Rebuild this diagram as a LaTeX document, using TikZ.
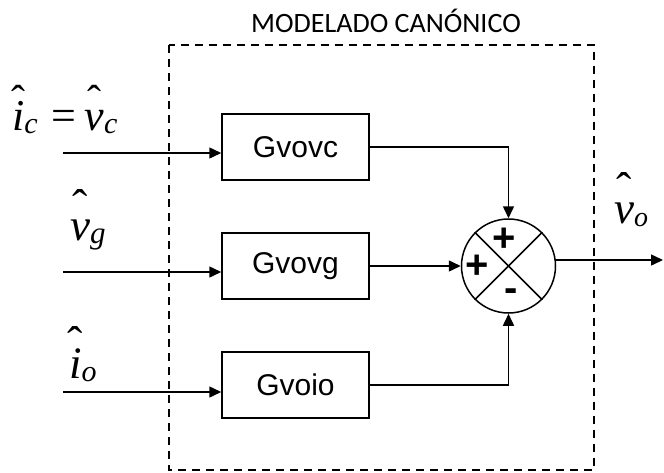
\documentclass[tikz,border=0pt]{standalone}
\usepackage{fontspec}
\usetikzlibrary{arrows.meta,calc}
\newfontfamily\serifL{Liberation Serif}
\newfontfamily\sansL{Liberation Sans}
\newfontfamily\titleF{Carlito}
\newcommand\hatover[3]{\leavevmode\setbox0=\hbox{#3}\rlap{\hbox to \wd0{\hss\raisebox{#1}{\fontsize{#2}{#2}\selectfont\upshape\char"02C6}\hss}}\box0}
\newcommand\subsc[2][30pt]{\raisebox{-3pt}{\fontsize{#1}{#1}\selectfont #2}}
\tikzset{
  blk/.style={draw, line width=1.5pt, minimum width=147pt, minimum height=66pt, inner sep=0pt,
    font=\sansL\fontsize{30pt}{30pt}\selectfont},
  conn/.style={line width=1.5pt},
  arr/.style={line width=1.5pt, -{Triangle[length=12pt,width=11pt]}},
  lbl/.style={inner sep=0pt, anchor=base west, font=\serifL\itshape\fontsize{45pt}{45pt}\selectfont},
  sign/.style={inner sep=0pt, font=\sansL\bfseries\fontsize{40pt}{40pt}\selectfont},
  frame/.style={line width=1.6pt, dash pattern=on 8pt off 6pt}
}
\begin{document}
\begin{tikzpicture}[x=1pt,y=-1pt]
\useasboundingbox (0,0) rectangle (664,472);
% frame
\draw[frame] (169,45) rectangle (594,470);
\node[font=\titleF\fontsize{28pt}{28pt}\selectfont, inner sep=0pt] (title) at (386,21) {MODELADO CANÓNICO};
% blocks
\node[blk] (b1) at (295.5,147) {Gvovc};
\node[blk] (b2) at (295.5,266) {Gvovg};
\node[blk] (b3) at (295.5,385) {Gvoio};
% summer
\node[draw, circle, line width=1.5pt, minimum size=94pt, inner sep=0pt] (s) at (508.5,266) {};
\draw[conn] (s.north east) -- (s.south west);
\draw[conn] (s.north west) -- (s.south east);
\node[sign] (p1) at ($(s.center)+(-4,-26)$) {+};
\node[sign] (p2) at ($(s.center)+(-31,1)$) {+};
\node[sign] (m1) at ($(s.center)+(3,29)$) {-};
% inputs
\coordinate (i1) at (63,153);
\coordinate (i2) at (63,272);
\coordinate (i3) at (63,392);
\draw[arr] (i1) -- (i1 -| b1.west);
\draw[arr] (i2) -- (i2 -| b2.west);
\draw[arr] (i3) -- (i3 -| b3.west);
% block outputs
\draw[arr] (b1.east) -| (s.north);
\draw[arr] (b2.east) -- (s.west);
\draw[arr] (b3.east) -| (s.south);
% output
\coordinate (oS) at ($(s.center)+(46.6,-6)$);
\coordinate (oE) at (663,260);
\draw[arr] (oS) -- (oE);
% labels
\node[lbl, font=\serifL\itshape\fontsize{44pt}{44pt}\selectfont] (l1) at (12,130)
  {\hatover{16pt}{42pt}{i}\subsc[30pt]{c}\hspace{14pt}{\upshape =}\hspace{8pt}\hatover{16pt}{42pt}{v}\subsc[30pt]{c}};
\node[lbl] (l2) at (70,240) {\hatover{19pt}{46pt}{v}\subsc[31pt]{g}};
\node[lbl] (l3) at (69,378) {\hatover{20pt}{46pt}{i}\subsc[30pt]{o}};
\node[lbl] (l4) at (614,223) {\hatover{19pt}{46pt}{v}\subsc[28pt]{o}};
\end{tikzpicture}
\end{document}
